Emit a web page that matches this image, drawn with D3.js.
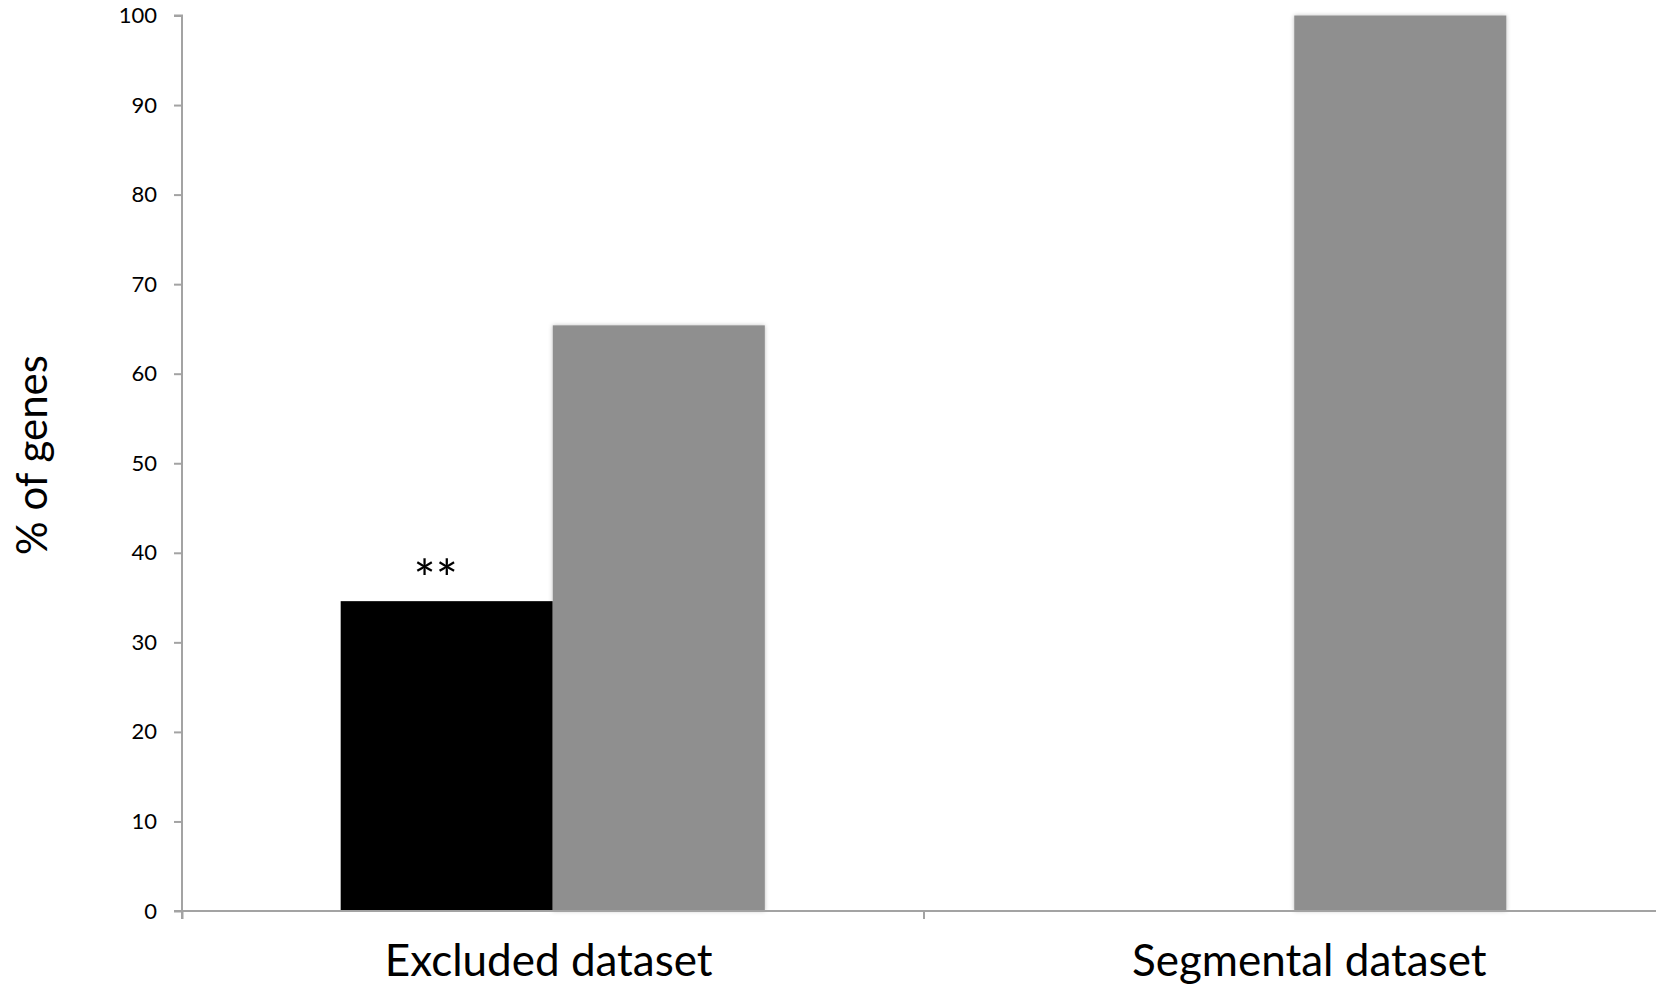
<!DOCTYPE html>
<html>
<head>
<meta charset="utf-8">
<script src="https://cdn.jsdelivr.net/npm/d3@7"></script>
<style>
  html, body { margin: 0; padding: 0; background: #ffffff; }
  svg { display: block; font-family: Lato, "Open Sans", sans-serif; }
</style>
</head>
<body>
<svg id="chart" width="1656" height="990"></svg>
<script>
// ---- data ----
const categories = ["Excluded dataset", "Segmental dataset"];
const seriesNames = ["black", "gray"];
const blackValues = [34.6, 0];
const grayValues = [65.4, 100];
const yTicks = [0, 10, 20, 30, 40, 50, 60, 70, 80, 90, 100];
const annotations = [{ category: "Excluded dataset", series: "black", text: "**" }];
const yLabel = "% of genes";

// ---- layout ----
const svg = d3.select("#chart");
const mLeft = 182, mRight = 1665, mTop = 15.5, mBottom = 911;
const axisColor = "#a3a3a3";
const colors = { black: "#000000", gray: "#8f8f8f" };
const labelShift = { "Excluded dataset": -4, "Segmental dataset": 15 };

const defs = svg.append("defs");
const f = defs.append("filter").attr("id", "shadow").attr("x", "-10%").attr("y", "-10%").attr("width", "120%").attr("height", "120%");
f.append("feDropShadow").attr("dx", 0).attr("dy", 0).attr("stdDeviation", 2).attr("flood-color", "#000").attr("flood-opacity", 0.25);

const y = d3.scaleLinear().domain([0, 100]).range([mBottom, mTop]);
const x0 = d3.scaleBand().domain(categories).range([mLeft, mRight]).padding(0);
const bw = x0.bandwidth();
const x1 = d3.scaleBand().domain(seriesNames).range([bw * 0.214, bw * 0.786]).padding(0);

const rows = [];
categories.forEach((c, i) => {
  rows.push({ category: c, series: "black", value: blackValues[i] });
  rows.push({ category: c, series: "gray", value: grayValues[i] });
});

// bars
svg.append("g").selectAll("rect")
  .data(rows.filter(d => d.value > 0))
  .join("rect")
  .attr("x", d => x0(d.category) + x1(d.series))
  .attr("width", x1.bandwidth())
  .attr("y", d => y(d.value))
  .attr("height", d => y(0) - y(d.value))
  .attr("fill", d => colors[d.series])
  .attr("filter", d => d.series === "gray" ? "url(#shadow)" : null);

// y axis
const yAxis = svg.append("g")
  .attr("transform", `translate(${mLeft},0)`)
  .call(d3.axisLeft(y).tickValues(yTicks).tickSize(8).tickPadding(17).tickFormat(d3.format("d")));
yAxis.select(".domain").attr("stroke", axisColor).attr("stroke-width", 2).attr("d", `M-8,${mTop}H0V${mBottom + 8}`);
yAxis.selectAll(".tick line").attr("stroke", axisColor).attr("stroke-width", 2);
yAxis.selectAll(".tick text").attr("font-size", 22).attr("fill", "#000").attr("font-family", "Lato, sans-serif");

// x axis (ticks at category boundaries)
const xb = d3.scaleLinear().domain([0, categories.length]).range([mLeft, mRight]);
const xAxis = svg.append("g")
  .attr("transform", `translate(0,${mBottom})`)
  .call(d3.axisBottom(xb).tickValues(d3.range(categories.length + 1)).tickSize(8).tickFormat(""));
xAxis.select(".domain").attr("stroke", axisColor).attr("stroke-width", 2).attr("d", `M${mLeft - 8},0H${mRight}`);
xAxis.selectAll(".tick line").attr("stroke", axisColor).attr("stroke-width", 2);

// category labels
svg.append("g").selectAll("text")
  .data(categories)
  .join("text")
  .attr("x", d => x0(d) + bw / 2 + labelShift[d])
  .attr("y", 976)
  .attr("text-anchor", "middle")
  .attr("font-size", 44)
  .attr("fill", "#000")
  .text(d => d);

// y label
svg.append("text")
  .attr("transform", "translate(47,455) rotate(-90)")
  .attr("text-anchor", "middle")
  .attr("font-size", 42)
  .attr("fill", "#000")
  .text(yLabel);

// annotations
svg.append("g").selectAll("text")
  .data(annotations)
  .join("text")
  .attr("x", d => x0(d.category) + x1(d.series) + x1.bandwidth() / 2 - 11)
  .attr("y", d => y(blackValues[categories.indexOf(d.category)]) - 3)
  .attr("text-anchor", "middle")
  .attr("font-size", 52)
  .attr("fill", "#000")
  .text(d => d.text);
</script>
</body>
</html>
